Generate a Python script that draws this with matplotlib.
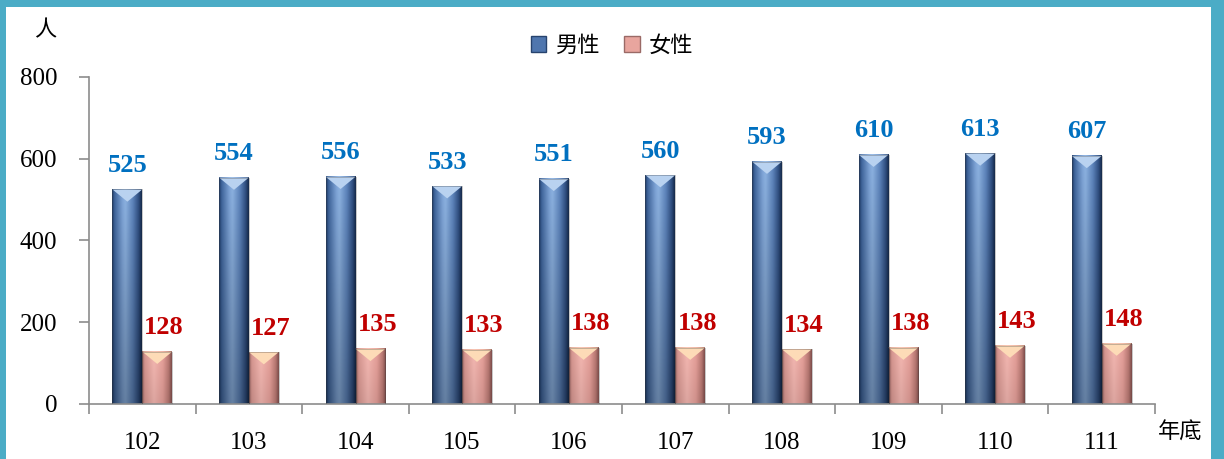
import numpy as np
import matplotlib
matplotlib.use('Agg')
import matplotlib.pyplot as plt
from matplotlib.patches import Polygon, Patch, Rectangle
from matplotlib.colors import to_rgb

# Year-end head counts by sex
years = ['102', '103', '104', '105', '106', '107', '108', '109', '110', '111']
male = [525, 554, 556, 533, 551, 560, 593, 610, 613, 607]
female = [128, 127, 135, 133, 138, 138, 134, 138, 143, 148]

serif = ['Liberation Serif', 'DejaVu Serif']
cjk = ['Noto Sans CJK TC', 'DejaVu Sans']

# Horizontal colour profile for the bevelled bars
male_stops = [(0.0, '#1E3A66'), (0.08, '#3F659C'), (0.35, '#7FA5D8'), (0.45, '#8DB3E2'),
              (0.7, '#5D84BC'), (0.9, '#2F4E80'), (1.0, '#162A4A')]
female_stops = [(0.0, '#8E5E5C'), (0.08, '#D69690'), (0.4, '#F5B8B2'), (0.7, '#E6A09A'),
                (0.9, '#B87872'), (1.0, '#7E4E4C')]


def bar_image(stops, shade, nx=64, ny=64):
    pos = [s[0] for s in stops]
    cols = np.array([to_rgb(s[1]) for s in stops])
    xs = np.linspace(0, 1, nx)
    row = np.stack([np.interp(xs, pos, cols[:, c]) for c in range(3)], axis=-1)
    vert = np.linspace(1.0, shade, ny)[:, None, None]
    return np.clip(row[None, :, :] * vert, 0, 1)


male_img = bar_image(male_stops, 0.72)
female_img = bar_image(female_stops, 0.9)

fig = plt.figure(figsize=(12.24, 4.59), dpi=100)
ax = fig.add_axes([89 / 1224, 55 / 459, 1066 / 1224, 327 / 459])

x = np.arange(len(years))
w = 0.28
ymax = 800
bevel = 30  # height of the light top face in data units


def draw_bar(xc, h, img, top_col):
    x0, x1 = xc - w / 2, xc + w / 2
    ax.imshow(img, extent=[x0, x1, 0, h], aspect='auto', interpolation='bicubic', zorder=2)
    tri = Polygon([[x0, h], [x1, h], [xc, h - bevel]], closed=True,
                  facecolor=top_col, edgecolor='none', zorder=3)
    ax.add_patch(tri)
    ax.add_patch(Rectangle((x0, 0), w, h, facecolor='none', edgecolor='#3a3a3a',
                           linewidth=0.4, alpha=0.5, zorder=4))


for i in range(len(years)):
    draw_bar(x[i] - w / 2, male[i], male_img, '#B9D2F0')
    draw_bar(x[i] + w / 2, female[i], female_img, '#FDDBB7')
    ax.annotate(str(male[i]), (x[i] - w / 2, male[i]), xytext=(0, 9), textcoords='offset points',
                ha='center', va='bottom', fontsize=19, fontweight='bold', color='#0070C0',
                family=serif)
    ax.annotate(str(female[i]), (x[i] + w / 2, female[i]), xytext=(5, 9), textcoords='offset points',
                ha='center', va='bottom', fontsize=19, fontweight='bold', color='#C00000',
                family=serif)

ax.set_xlim(-0.5, len(years) - 0.5)
ax.set_ylim(0, ymax)

for s in ['top', 'right']:
    ax.spines[s].set_visible(False)
for s in ['left', 'bottom']:
    ax.spines[s].set_color('#8c8c8c')
    ax.spines[s].set_linewidth(1.2)

ax.set_yticks(np.arange(0, ymax + 1, 200))
ax.tick_params(axis='y', length=7, width=1.2, color='#8c8c8c', pad=16, labelsize=18)
ax.set_xticks(x, years)
ax.tick_params(axis='x', which='major', length=0, pad=20, labelsize=18)
ax.set_xticks(np.arange(-0.5, len(years)), minor=True)
ax.tick_params(axis='x', which='minor', length=7, width=1.2, color='#8c8c8c')
for lab in ax.get_xticklabels() + ax.get_yticklabels():
    lab.set_family(serif)

fig.text(45 / 1224, 1 - 30 / 459, '人', fontsize=16, family=cjk, ha='center', va='center')
fig.text(1180 / 1224, 1 - 432 / 459, '年底', fontsize=16, family=cjk, ha='center', va='center')

handles = [Patch(facecolor='#4F76AE', edgecolor='#27436e', label='男性'),
           Patch(facecolor='#E8A59E', edgecolor='#9a6a66', label='女性')]
fig.legend(handles=handles, loc='center', bbox_to_anchor=(0.5, 1 - 45 / 459), ncol=2,
           frameon=False, prop={'family': cjk, 'size': 16}, handlelength=0.7,
           handleheight=0.7, handletextpad=0.4, columnspacing=1.1)

# teal frame along the top and sides
frame = '#4BACC6'
fig.add_artist(Rectangle((0, 1 - 7 / 459), 1, 7 / 459, transform=fig.transFigure,
                         facecolor=frame, edgecolor='none'))
fig.add_artist(Rectangle((0, 0), 6 / 1224, 1, transform=fig.transFigure,
                         facecolor=frame, edgecolor='none'))
fig.add_artist(Rectangle((1211 / 1224, 0), 13 / 1224, 1, transform=fig.transFigure,
                         facecolor=frame, edgecolor='none'))

fig.savefig('out.png', dpi=100)
